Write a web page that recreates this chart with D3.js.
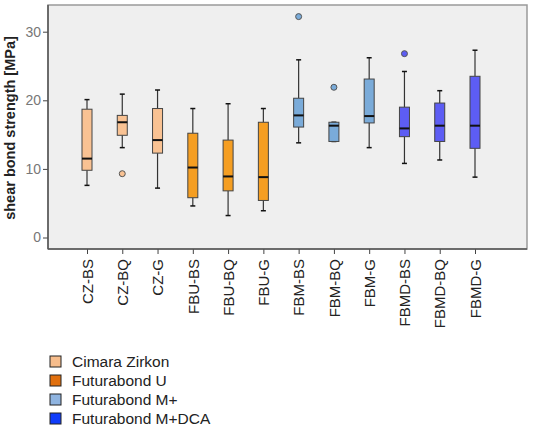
<!DOCTYPE html>
<html lang="en">
<head>
<meta charset="UTF-8">
<title>Shear bond strength</title>
<script src="https://d3js.org/d3.v7.min.js"></script>
<style>
  body { margin: 0; background: #fff; }
  text { font-family: Arial, "Liberation Sans", sans-serif; }
</style>
</head>
<body>
<div id="chart"></div>
<script>
// groups and their box statistics (MPa)
const groups   = ["CZ-BS","CZ-BQ","CZ-G","FBU-BS","FBU-BQ","FBU-G","FBM-BS","FBM-BQ","FBM-G","FBMD-BS","FBMD-BQ","FBMD-G"];
const material = [0,0,0,1,1,1,2,2,2,3,3,3];
const whiskLo  = [7.6, 13.1, 7.2, 4.6, 3.2, 3.9, 13.8, 14.0, 13.1, 10.8, 11.3, 8.8];
const q1       = [9.8, 14.9, 12.3, 5.8, 6.8, 5.4, 16.1, 14.0, 16.7, 14.7, 14.0, 13.0];
const median   = [11.5, 16.8, 14.2, 10.2, 8.9, 8.8, 17.8, 16.3, 17.7, 15.9, 16.3, 16.3];
const q3       = [18.7, 17.8, 18.8, 15.2, 14.2, 16.8, 20.3, 16.8, 23.1, 19.0, 19.6, 23.5];
const whiskHi  = [20.1, 20.9, 21.5, 18.8, 19.5, 18.8, 25.9, 16.8, 26.2, 24.2, 21.4, 27.3];
const outliers = [[], [9.3], [], [], [], [], [32.2], [21.9], [], [26.8], [], []];

const materials   = ["Cimara Zirkon","Futurabond U","Futurabond M+","Futurabond M+DCA"];
const boxColors   = ["#f9c293","#f59e22","#7aabd9","#5d5df4"];
const legendColor = ["#f7bd8c","#e1700e","#8fb4e0","#0f3cfb"];
const yTicks = [0, 10, 20, 30];

const W = 534, H = 429;
const plot = {left: 48, top: 5, right: 527, bottom: 249};

const svg = d3.select("#chart").append("svg")
  .attr("width", W).attr("height", H);

const x = d3.scalePoint().domain(groups).range([87, 475]);
const y = d3.scaleLinear().domain([0, 30]).range([237.5, 31.7]);

// plot background
svg.append("rect")
  .attr("x", plot.left).attr("y", plot.top)
  .attr("width", plot.right - plot.left).attr("height", plot.bottom - plot.top)
  .attr("fill", "#efefef").attr("stroke", "#9a9a9a").attr("stroke-width", 1.5);

// axes
const yAxis = svg.append("g")
  .attr("transform", `translate(${plot.left},0)`)
  .call(d3.axisLeft(y).tickValues(yTicks).tickSize(5).tickPadding(2));
yAxis.select(".domain").remove();
yAxis.selectAll("line").attr("stroke", "#444");
yAxis.selectAll("text").attr("font-size", 14).attr("fill", "#777");

const xAxis = svg.append("g")
  .attr("transform", `translate(0,${plot.bottom})`)
  .call(d3.axisBottom(x).tickSize(5).tickSizeOuter(0));
xAxis.select(".domain").remove();
xAxis.selectAll("line").attr("stroke", "#444");
xAxis.selectAll("text")
  .attr("font-size", 15).attr("fill", "#222")
  .attr("transform", "rotate(-90)")
  .attr("text-anchor", "end")
  .attr("x", -10).attr("y", 0).attr("dy", "0.35em");

// axis lines
svg.append("line").attr("x1", plot.left).attr("x2", plot.right)
  .attr("y1", plot.bottom).attr("y2", plot.bottom).attr("stroke", "#555").attr("stroke-width", 1.5);
svg.append("line").attr("x1", plot.left).attr("x2", plot.left)
  .attr("y1", plot.top).attr("y2", plot.bottom).attr("stroke", "#555").attr("stroke-width", 1.5);

// y title
svg.append("text")
  .attr("transform", `translate(15,128) rotate(-90)`)
  .attr("text-anchor", "middle")
  .attr("font-size", 14.5).attr("font-weight", "bold").attr("fill", "#222")
  .text("shear bond strength [MPa]");

// boxes
const boxW = 10, capW = 5;
const g = svg.append("g").selectAll("g").data(groups).join("g")
  .attr("transform", d => `translate(${x(d)},0)`);

g.append("line")
  .attr("y1", (d, i) => y(whiskHi[i])).attr("y2", (d, i) => y(q3[i]))
  .attr("stroke", "#333").attr("stroke-width", 1.2);
g.append("line")
  .attr("y1", (d, i) => y(q1[i])).attr("y2", (d, i) => y(whiskLo[i]))
  .attr("stroke", "#333").attr("stroke-width", 1.2);
g.append("line")
  .attr("x1", -capW / 2).attr("x2", capW / 2)
  .attr("y1", (d, i) => y(whiskHi[i])).attr("y2", (d, i) => y(whiskHi[i]))
  .attr("stroke", "#111").attr("stroke-width", 1.5);
g.append("line")
  .attr("x1", -capW / 2).attr("x2", capW / 2)
  .attr("y1", (d, i) => y(whiskLo[i])).attr("y2", (d, i) => y(whiskLo[i]))
  .attr("stroke", "#111").attr("stroke-width", 1.5);
g.append("rect")
  .attr("x", -boxW / 2).attr("width", boxW)
  .attr("y", (d, i) => y(q3[i]))
  .attr("height", (d, i) => y(q1[i]) - y(q3[i]))
  .attr("fill", (d, i) => boxColors[material[i]])
  .attr("stroke", "#444").attr("stroke-width", 1);
g.append("line")
  .attr("x1", -boxW / 2).attr("x2", boxW / 2)
  .attr("y1", (d, i) => y(median[i])).attr("y2", (d, i) => y(median[i]))
  .attr("stroke", "#111").attr("stroke-width", 2);
g.each(function (d, i) {
  d3.select(this).selectAll("circle").data(outliers[i]).join("circle")
    .attr("cx", 0).attr("cy", v => y(v)).attr("r", 3)
    .attr("fill", boxColors[material[i]])
    .attr("stroke", "#555").attr("stroke-width", 1);
});

// legend
const leg = svg.append("g").selectAll("g").data(materials).join("g")
  .attr("transform", (d, i) => `translate(50,${362 + i * 19})`);
leg.append("rect")
  .attr("x", 0).attr("y", -6).attr("width", 11).attr("height", 11)
  .attr("fill", (d, i) => legendColor[i]).attr("stroke", "#222").attr("stroke-width", 1);
leg.append("text")
  .attr("x", 22).attr("y", 0).attr("dy", "0.35em")
  .attr("font-size", 15.5).attr("fill", "#222")
  .text(d => d);
</script>
</body>
</html>
